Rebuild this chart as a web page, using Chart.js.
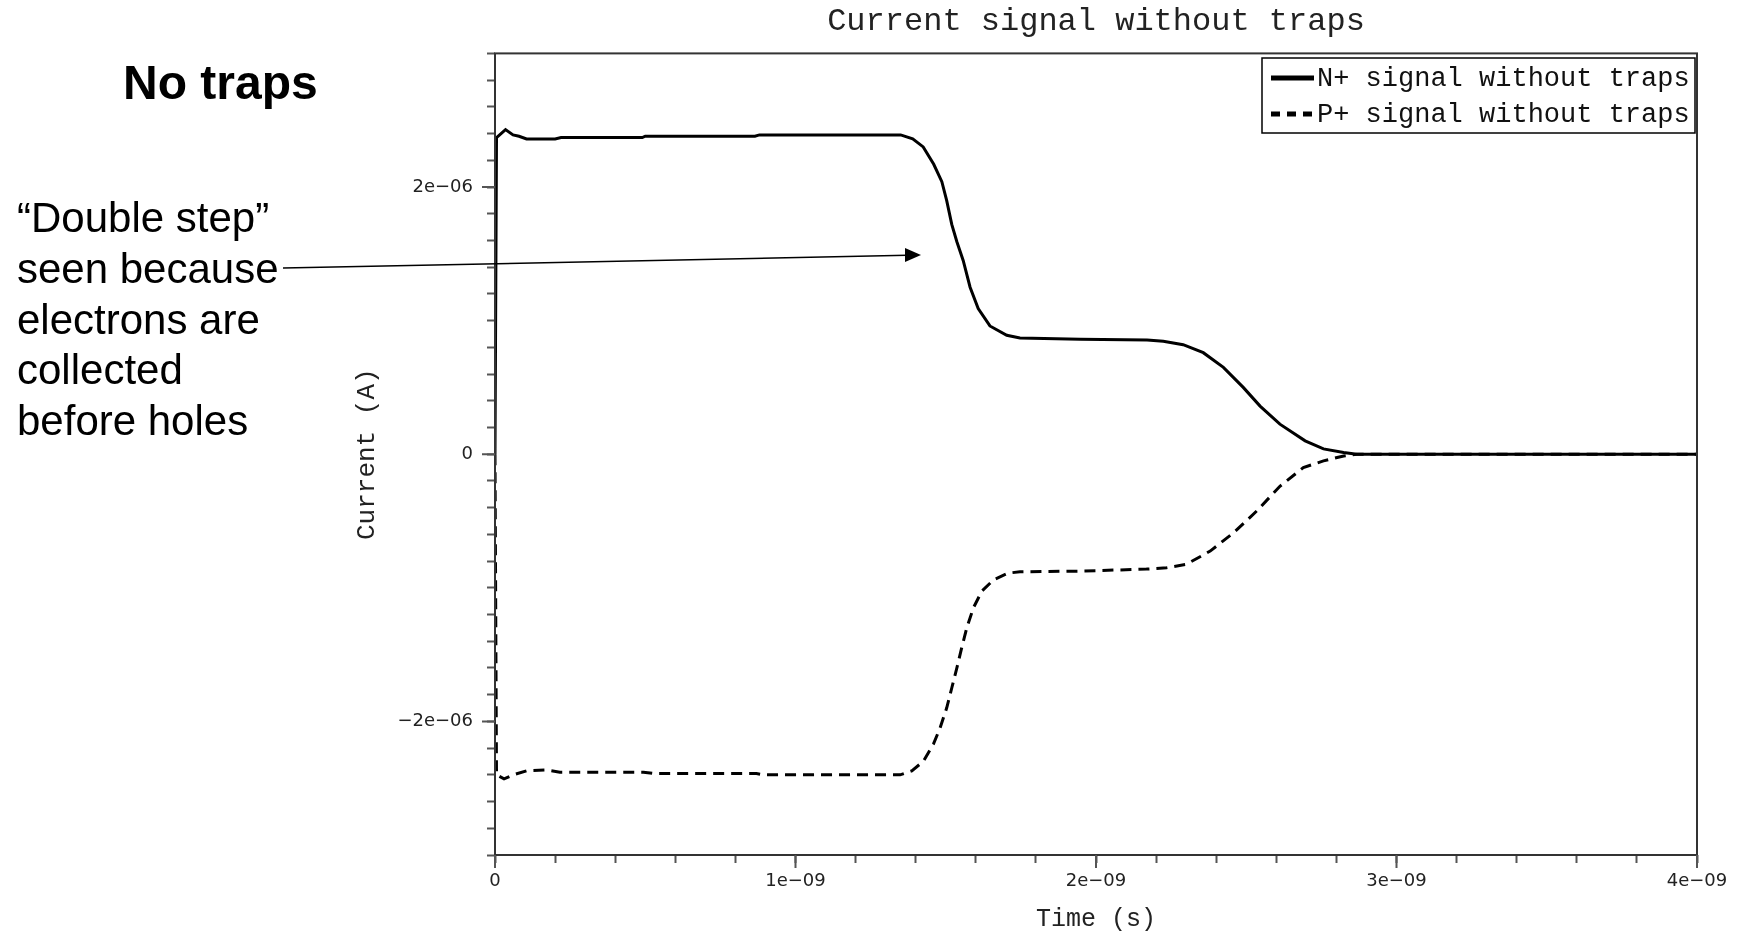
<!DOCTYPE html>
<html>
<head>
<meta charset="utf-8">
<title>Current signal without traps</title>
<script src="https://cdn.jsdelivr.net/npm/chart.js@4.4.1/dist/chart.umd.min.js"></script>
<style>
  body { margin: 0; background: #fff; }
  #wrap { position: relative; width: 1742px; height: 931px; overflow: hidden; }
  #chart { position: absolute; left: 0; top: 0; }
  .note { position: absolute; font-family: "Liberation Sans", Arial, sans-serif; color: #000; white-space: nowrap; }
  #noTraps { left: 123px; top: 59px; font-size: 48px; font-weight: bold; line-height: 48px; }
  #doubleStep { left: 17px; top: 193px; font-size: 42px; line-height: 50.8px; }
  #arrow { position: absolute; left: 0; top: 0; }
</style>
</head>
<body>
<div id="wrap">
  <canvas id="chart" width="1742" height="931"></canvas>
  <div class="note" id="noTraps">No traps</div>
  <div class="note" id="doubleStep">“Double step”<br>seen because<br>electrons are<br>collected<br>before holes</div>
  <svg id="arrow" width="1742" height="931">
    <line x1="283" y1="268" x2="907" y2="255.3" stroke="#000" stroke-width="1.5"/>
    <polygon points="921,255 905,248 905,262" fill="#000"/>
  </svg>
</div>
<script>
 // Data: time in ns, current in uA
 const nTime = [0, 0.005, 0.035, 0.06, 0.08, 0.105, 0.2, 0.22, 0.49, 0.5, 0.865, 0.88, 1.35, 1.39, 1.425, 1.46, 1.487, 1.503, 1.52, 1.537, 1.558, 1.581, 1.608, 1.647, 1.703, 1.747, 1.947, 2.17, 2.224, 2.29, 2.357, 2.424, 2.49, 2.546, 2.612, 2.696, 2.757, 2.824, 2.868, 4.0];
 const nCurrent = [0, 2.37, 2.43, 2.39, 2.38, 2.36, 2.36, 2.37, 2.37, 2.38, 2.38, 2.39, 2.39, 2.36, 2.30, 2.17, 2.04, 1.90, 1.72, 1.59, 1.45, 1.25, 1.09, 0.96, 0.89, 0.87, 0.86, 0.855, 0.845, 0.82, 0.76, 0.65, 0.50, 0.36, 0.225, 0.10, 0.04, 0.012, 0, 0];

 const pTime = [0, 0.005, 0.03, 0.061, 0.105, 0.172, 0.216, 0.494, 0.527, 0.87, 0.893, 1.348, 1.387, 1.425, 1.459, 1.481, 1.503, 1.52, 1.537, 1.553, 1.57, 1.592, 1.62, 1.659, 1.708, 1.747, 1.947, 2.168, 2.235, 2.30, 2.38, 2.457, 2.535, 2.612, 2.69, 2.757, 2.824, 2.868, 4.0];
 const pCurrent = [0, -2.40, -2.43, -2.40, -2.37, -2.364, -2.38, -2.38, -2.39, -2.39, -2.40, -2.40, -2.37, -2.30, -2.17, -2.05, -1.90, -1.75, -1.60, -1.45, -1.30, -1.15, -1.025, -0.94, -0.89, -0.88, -0.875, -0.86, -0.85, -0.825, -0.725, -0.59, -0.425, -0.24, -0.10, -0.05, -0.013, 0, 0];

 const seriesLabels = ['N+ signal without traps', 'P+ signal without traps'];

 // Axis ticks
 const xMajorTicks = [0, 1e-9, 2e-9, 3e-9, 4e-9];
 const xTickLabels = ['0', '1e−09', '2e−09', '3e−09', '4e−09'];
 const yMajorTicks = [-2e-6, 0, 2e-6];
 const yTickLabels = ['−2e−06', '0', '2e−06'];
 const xMinorStep = 2e-10;
 const yMinorStep = 2e-7;
 const xRange = [0, 4e-9];
 const yRange = [-3e-6, 3e-6];

 const mono = 'Liberation Mono';

 function toPoints(times, values) {
  return times.map((t, i) => ({ x: t * 1e-9, y: values[i] * 1e-6 }));
 }

 function minorTicks(range, step) {
  const n = Math.round((range[1] - range[0]) / step);
  const out = [];
  for (let i = 0; i <= n; i++) out.push({ value: range[0] + i * step });
  return out;
 }

 function labelFor(value, majors, labels, step) {
  const idx = majors.findIndex(m => Math.abs(m - value) < step / 10);
  return idx >= 0 ? labels[idx] : '';
 }

 // Frame, long major ticks and the boxed legend
 const framePlugin = {
  id: 'frame',
  afterDraw(chart) {
   const { ctx, chartArea: a, scales } = chart;
   ctx.save();
   ctx.strokeStyle = '#333';
   ctx.lineWidth = 2;
   ctx.strokeRect(a.left, a.top, a.right - a.left, a.bottom - a.top);

   ctx.strokeStyle = '#555';
   ctx.beginPath();
   xMajorTicks.forEach(v => {
    const px = scales.x.getPixelForValue(v);
    ctx.moveTo(px, a.bottom);
    ctx.lineTo(px, a.bottom + 13);
   });
   yMajorTicks.forEach(v => {
    const py = scales.y.getPixelForValue(v);
    ctx.moveTo(a.left, py);
    ctx.lineTo(a.left - 13, py);
   });
   ctx.stroke();

   // legend
   ctx.fillStyle = '#fff';
   ctx.fillRect(1262, 58, 433, 75);
   ctx.strokeStyle = '#000';
   ctx.lineWidth = 1.5;
   ctx.strokeRect(1262, 58, 433, 75);
   const rows = [78, 114];
   chart.data.datasets.forEach((ds, i) => {
    ctx.beginPath();
    ctx.lineWidth = 5;
    ctx.strokeStyle = '#000';
    ctx.setLineDash(ds.borderDash ? [9, 7] : []);
    ctx.moveTo(1271, rows[i]);
    ctx.lineTo(1314, rows[i]);
    ctx.stroke();
    ctx.setLineDash([]);
    ctx.fillStyle = '#111';
    ctx.font = '27px "' + mono + '"';
    ctx.textBaseline = 'middle';
    ctx.fillText(ds.label, 1317, rows[i] + 1);
   });
   ctx.restore();
  }
 };

 // Chart
 const chart = new Chart(document.getElementById('chart'), {
  type: 'line',
  data: {
   datasets: [{
    label: seriesLabels[0],
    data: toPoints(nTime, nCurrent),
    borderColor: '#000',
    borderWidth: 3,
    pointRadius: 0,
    tension: 0
   }, {
    label: seriesLabels[1],
    data: toPoints(pTime, pCurrent),
    borderColor: '#000',
    borderWidth: 3,
    borderDash: [11, 7],
    pointRadius: 0,
    tension: 0
   }]
  },
  options: {
   responsive: false,
   animation: false,
   layout: { padding: { left: 340, right: 45, top: 0, bottom: 0 } },
   plugins: {
    legend: { display: false },
    tooltip: { enabled: false },
    title: {
     display: true,
     text: 'Current signal without traps',
     fullSize: false,
     color: '#222',
     font: { family: mono, size: 32, weight: 'normal' },
     padding: { top: 2, bottom: 13 }
    }
   },
   scales: {
    x: {
     type: 'linear',
     min: xRange[0],
     max: xRange[1],
     afterBuildTicks: scale => { scale.ticks = minorTicks(xRange, xMinorStep); },
     afterFit: scale => { scale.height = 76; },
     grid: { drawOnChartArea: false, tickLength: 8, tickColor: '#555', tickWidth: 2 },
     border: { display: false },
     ticks: {
      autoSkip: false,
      maxRotation: 0,
      padding: 8,
      color: '#222',
      font: { family: 'DejaVu Sans', size: 18 },
      callback: v => labelFor(v, xMajorTicks, xTickLabels, xMinorStep)
     },
     title: {
      display: true,
      text: 'Time (s)',
      color: '#222',
      font: { family: mono, size: 25, lineHeight: 0.9 },
      padding: 0
     }
    },
    y: {
     min: yRange[0],
     max: yRange[1],
     afterBuildTicks: scale => { scale.ticks = minorTicks(yRange, yMinorStep); },
     afterFit: scale => { scale.width = 155; },
     grid: { drawOnChartArea: false, tickLength: 8, tickColor: '#555', tickWidth: 2 },
     border: { display: false },
     ticks: {
      autoSkip: false,
      padding: 14,
      color: '#222',
      font: { family: 'DejaVu Sans', size: 18 },
      callback: v => labelFor(v, yMajorTicks, yTickLabels, yMinorStep)
     },
     title: {
      display: true,
      text: 'Current (A)',
      color: '#222',
      font: { family: mono, size: 26, lineHeight: 1.2 },
      padding: { top: 12, bottom: 0 }
     }
    }
   }
  },
  plugins: [framePlugin]
 });
</script>
</body>
</html>
